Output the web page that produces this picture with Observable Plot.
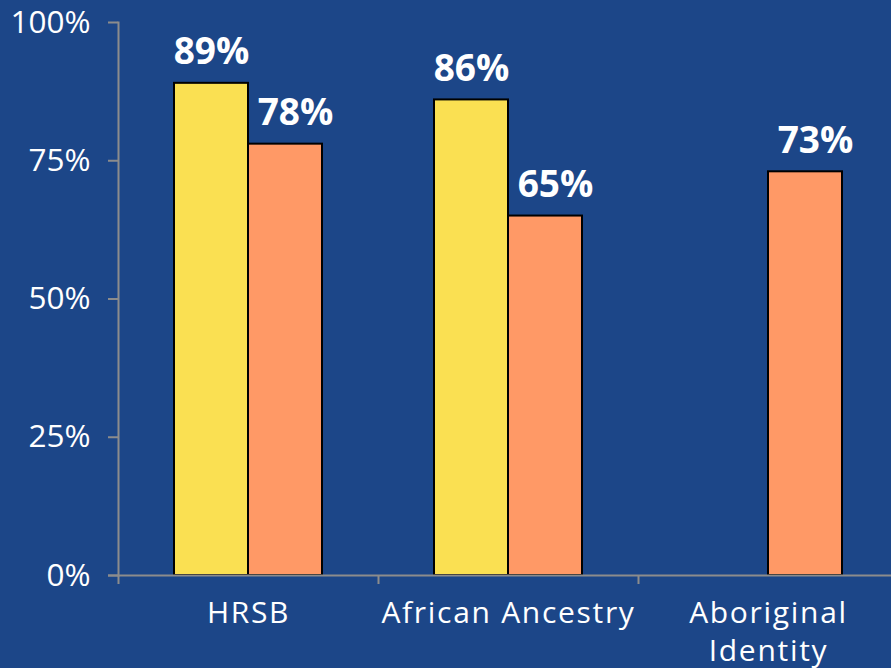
<!DOCTYPE html>
<html>
<head>
<meta charset="utf-8">
<script src="https://cdn.jsdelivr.net/npm/d3@7"></script>
<script src="https://cdn.jsdelivr.net/npm/@observablehq/plot@0.6"></script>
<style>
  html, body { margin: 0; padding: 0; background: #1c4688; overflow: hidden; }
  [aria-label="x-axis tick label"] text { letter-spacing: 1.7px; }
</style>
</head>
<body>
<div id="chart"></div>
<script>
const categories = ["HRSB", "African Ancestry", "Aboriginal\nIdentity"];
const series = ["Series 1", "Series 2"];
const series1Values = [0.89, 0.86, null];
const series2Values = [0.78, 0.65, 0.73];
const yTicks = [0, 0.25, 0.5, 0.75, 1];
const colors = ["#fae052", "#ff9966"];

const data = [];
categories.forEach((c, i) => {
  data.push({category: c, series: series[0], value: series1Values[i]});
  data.push({category: c, series: series[1], value: series2Values[i]});
});
const s1 = data.filter(d => d.series === series[0] && d.value != null);
const s2 = data.filter(d => d.series === series[1] && d.value != null);

const W = 891, H = 668;
const plot = Plot.plot({
  width: W,
  height: H,
  marginLeft: 118,
  marginTop: 22,
  marginBottom: 93,
  marginRight: 0,
  style: {background: "#1c4688", color: "white", fontFamily: "Open Sans", overflow: "visible"},
  x: {domain: categories, range: [118, 898], padding: 0, axis: null, label: null},
  y: {domain: [0, 1], axis: null, label: null},
  color: {domain: series, range: colors},
  marks: [
    Plot.frame({anchor: "left", stroke: "#8c8c8c", strokeWidth: 2}),
    Plot.barY(s1, {x: "category", y: "value", fill: colors[0], stroke: "black", strokeWidth: 2, insetLeft: 56, insetRight: 130}),
    Plot.barY(s2, {x: "category", y: "value", fill: colors[1], stroke: "black", strokeWidth: 2, insetLeft: 130, insetRight: 56}),
    Plot.ruleY([0], {stroke: "#8c8c8c", strokeWidth: 2, insetLeft: -10}),
    Plot.axisY({ticks: yTicks, tickFormat: d3.format(".0%"), tickSize: 10, tickPadding: 18, fontSize: 31.5, stroke: "#8c8c8c", strokeWidth: 2, fill: "white", label: null}),
    Plot.axisX({tickSize: 9, dx: -130, tickFormat: () => "", stroke: "#8c8c8c", strokeWidth: 2, label: null}),
    Plot.axisX({tickSize: 0, tickPadding: 21, fontSize: 30, lineHeight: 1.25, fill: "white", label: null}),
    Plot.text(s1, {x: "category", y: "value", text: d => d3.format(".0%")(d.value), dx: -37, dy: -19, lineAnchor: "bottom", fontSize: 37, fontWeight: "bold", fill: "white"}),
    Plot.text(s2, {x: "category", y: "value", text: d => d3.format(".0%")(d.value), dx: 47, dy: -19, lineAnchor: "bottom", fontSize: 37, fontWeight: "bold", fill: "white"})
  ]
});
document.getElementById("chart").appendChild(plot);
</script>
</body>
</html>
